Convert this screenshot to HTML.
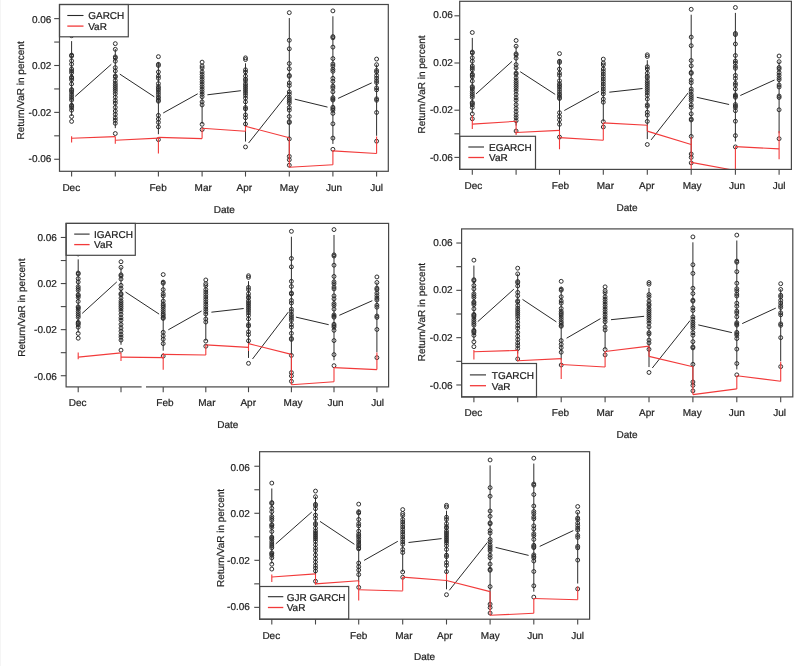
<!DOCTYPE html>
<html><head><meta charset="utf-8"><style>
html,body{margin:0;padding:0;background:#fff;}
svg{display:block;will-change:transform;}
text{text-rendering:geometricPrecision;font-family:"Liberation Sans",sans-serif;font-size:10px;fill:#1e1e1e;stroke:#1e1e1e;stroke-width:0.22px;}
</style></head><body>
<svg width="797" height="666" viewBox="0 0 797 666">
<rect width="797" height="666" fill="#fff"/>
<line x1="0.5" y1="0" x2="0.5" y2="666" stroke="#f5f5f5" stroke-width="1"/>
<g><clipPath id="c0"><rect x="59.5" y="4.5" width="328.8" height="166.8"/></clipPath>
<g clip-path="url(#c0)" stroke="#2e2e2e" stroke-width="1" fill="none"><line x1="71.6" y1="41.11" x2="71.6" y2="116.02"/><circle cx="71.6" cy="35.71" r="1.95"/><circle cx="71.6" cy="55.07" r="1.95"/><circle cx="71.6" cy="56.07" r="1.95"/><circle cx="71.6" cy="60.84" r="1.95"/><circle cx="71.6" cy="64.21" r="1.95"/><circle cx="71.6" cy="68.98" r="1.95"/><circle cx="71.6" cy="70.87" r="1.95"/><circle cx="71.6" cy="72.75" r="1.95"/><circle cx="71.6" cy="77.12" r="1.95"/><circle cx="71.6" cy="78.12" r="1.95"/><circle cx="71.6" cy="79.81" r="1.95"/><circle cx="71.6" cy="83.98" r="1.95"/><circle cx="71.6" cy="89.44" r="1.95"/><circle cx="71.6" cy="90.43" r="1.95"/><circle cx="71.6" cy="91.82" r="1.95"/><circle cx="71.6" cy="94.31" r="1.95"/><circle cx="71.6" cy="96.39" r="1.95"/><circle cx="71.6" cy="98.38" r="1.95"/><circle cx="71.6" cy="100.17" r="1.95"/><circle cx="71.6" cy="105.23" r="1.95"/><circle cx="71.6" cy="106.23" r="1.95"/><circle cx="71.6" cy="107.62" r="1.95"/><circle cx="71.6" cy="110.2" r="1.95"/><circle cx="71.6" cy="116.55" r="1.95"/><circle cx="71.6" cy="121.42" r="1.95"/><line x1="115.3" y1="49.05" x2="115.3" y2="128.14"/><circle cx="115.3" cy="43.65" r="1.95"/><circle cx="115.3" cy="49.31" r="1.95"/><circle cx="115.3" cy="56.86" r="1.95"/><circle cx="115.3" cy="58.05" r="1.95"/><circle cx="115.3" cy="61.23" r="1.95"/><circle cx="115.3" cy="67.59" r="1.95"/><circle cx="115.3" cy="70.97" r="1.95"/><circle cx="115.3" cy="75.93" r="1.95"/><circle cx="115.3" cy="77.12" r="1.95"/><circle cx="115.3" cy="80.6" r="1.95"/><circle cx="115.3" cy="83.38" r="1.95"/><circle cx="115.3" cy="85.37" r="1.95"/><circle cx="115.3" cy="87.35" r="1.95"/><circle cx="115.3" cy="89.34" r="1.95"/><circle cx="115.3" cy="91.33" r="1.95"/><circle cx="115.3" cy="93.81" r="1.95"/><circle cx="115.3" cy="97.19" r="1.95"/><circle cx="115.3" cy="100.56" r="1.95"/><circle cx="115.3" cy="103.15" r="1.95"/><circle cx="115.3" cy="107.32" r="1.95"/><circle cx="115.3" cy="110.99" r="1.95"/><circle cx="115.3" cy="114.37" r="1.95"/><circle cx="115.3" cy="117.75" r="1.95"/><circle cx="115.3" cy="120.33" r="1.95"/><circle cx="115.3" cy="123.31" r="1.95"/><circle cx="115.3" cy="133.54" r="1.95"/><line x1="158.4" y1="62.06" x2="158.4" y2="134.2"/><circle cx="158.4" cy="56.66" r="1.95"/><circle cx="158.4" cy="64.31" r="1.95"/><circle cx="158.4" cy="65.5" r="1.95"/><circle cx="158.4" cy="71.96" r="1.95"/><circle cx="158.4" cy="76.13" r="1.95"/><circle cx="158.4" cy="78.32" r="1.95"/><circle cx="158.4" cy="83.58" r="1.95"/><circle cx="158.4" cy="86.56" r="1.95"/><circle cx="158.4" cy="88.25" r="1.95"/><circle cx="158.4" cy="89.94" r="1.95"/><circle cx="158.4" cy="92.22" r="1.95"/><circle cx="158.4" cy="94.41" r="1.95"/><circle cx="158.4" cy="96.69" r="1.95"/><circle cx="158.4" cy="98.28" r="1.95"/><circle cx="158.4" cy="100.27" r="1.95"/><circle cx="158.4" cy="101.26" r="1.95"/><circle cx="158.4" cy="115.36" r="1.95"/><circle cx="158.4" cy="119.04" r="1.95"/><circle cx="158.4" cy="122.41" r="1.95"/><circle cx="158.4" cy="126.88" r="1.95"/><circle cx="158.4" cy="139.6" r="1.95"/><line x1="202.1" y1="67.53" x2="202.1" y2="124.17"/><circle cx="202.1" cy="62.13" r="1.95"/><circle cx="202.1" cy="66" r="1.95"/><circle cx="202.1" cy="67.99" r="1.95"/><circle cx="202.1" cy="71.96" r="1.95"/><circle cx="202.1" cy="74.44" r="1.95"/><circle cx="202.1" cy="76.93" r="1.95"/><circle cx="202.1" cy="79.41" r="1.95"/><circle cx="202.1" cy="81.89" r="1.95"/><circle cx="202.1" cy="84.37" r="1.95"/><circle cx="202.1" cy="86.86" r="1.95"/><circle cx="202.1" cy="89.34" r="1.95"/><circle cx="202.1" cy="91.82" r="1.95"/><circle cx="202.1" cy="94.31" r="1.95"/><circle cx="202.1" cy="96.79" r="1.95"/><circle cx="202.1" cy="101.86" r="1.95"/><circle cx="202.1" cy="104.93" r="1.95"/><circle cx="202.1" cy="124.3" r="1.95"/><circle cx="202.1" cy="129.57" r="1.95"/><line x1="245.5" y1="63.26" x2="245.5" y2="141.55"/><circle cx="245.5" cy="57.86" r="1.95"/><circle cx="245.5" cy="59.54" r="1.95"/><circle cx="245.5" cy="69.77" r="1.95"/><circle cx="245.5" cy="71.96" r="1.95"/><circle cx="245.5" cy="76.13" r="1.95"/><circle cx="245.5" cy="79.11" r="1.95"/><circle cx="245.5" cy="80.6" r="1.95"/><circle cx="245.5" cy="83.58" r="1.95"/><circle cx="245.5" cy="85.47" r="1.95"/><circle cx="245.5" cy="87.35" r="1.95"/><circle cx="245.5" cy="89.34" r="1.95"/><circle cx="245.5" cy="91.33" r="1.95"/><circle cx="245.5" cy="93.31" r="1.95"/><circle cx="245.5" cy="95.5" r="1.95"/><circle cx="245.5" cy="98.18" r="1.95"/><circle cx="245.5" cy="101.86" r="1.95"/><circle cx="245.5" cy="107.52" r="1.95"/><circle cx="245.5" cy="109.01" r="1.95"/><circle cx="245.5" cy="114.87" r="1.95"/><circle cx="245.5" cy="117.75" r="1.95"/><circle cx="245.5" cy="124" r="1.95"/><circle cx="245.5" cy="146.95" r="1.95"/><line x1="289.3" y1="18.06" x2="289.3" y2="159.82"/><circle cx="289.3" cy="12.66" r="1.95"/><circle cx="289.3" cy="40.28" r="1.95"/><circle cx="289.3" cy="48.82" r="1.95"/><circle cx="289.3" cy="63.52" r="1.95"/><circle cx="289.3" cy="68.78" r="1.95"/><circle cx="289.3" cy="75.34" r="1.95"/><circle cx="289.3" cy="76.33" r="1.95"/><circle cx="289.3" cy="82.98" r="1.95"/><circle cx="289.3" cy="85.57" r="1.95"/><circle cx="289.3" cy="91.92" r="1.95"/><circle cx="289.3" cy="94.21" r="1.95"/><circle cx="289.3" cy="97.29" r="1.95"/><circle cx="289.3" cy="99.27" r="1.95"/><circle cx="289.3" cy="101.26" r="1.95"/><circle cx="289.3" cy="103.25" r="1.95"/><circle cx="289.3" cy="107.52" r="1.95"/><circle cx="289.3" cy="110.1" r="1.95"/><circle cx="289.3" cy="116.46" r="1.95"/><circle cx="289.3" cy="121.62" r="1.95"/><circle cx="289.3" cy="122.61" r="1.95"/><circle cx="289.3" cy="138.9" r="1.95"/><circle cx="289.3" cy="156.38" r="1.95"/><circle cx="289.3" cy="159.76" r="1.95"/><circle cx="289.3" cy="165.22" r="1.95"/><line x1="332.9" y1="16.28" x2="332.9" y2="143.93"/><circle cx="332.9" cy="10.88" r="1.95"/><circle cx="332.9" cy="36.6" r="1.95"/><circle cx="332.9" cy="37.79" r="1.95"/><circle cx="332.9" cy="47.13" r="1.95"/><circle cx="332.9" cy="58.55" r="1.95"/><circle cx="332.9" cy="64.01" r="1.95"/><circle cx="332.9" cy="66" r="1.95"/><circle cx="332.9" cy="69.38" r="1.95"/><circle cx="332.9" cy="71.26" r="1.95"/><circle cx="332.9" cy="78.32" r="1.95"/><circle cx="332.9" cy="81.39" r="1.95"/><circle cx="332.9" cy="86.16" r="1.95"/><circle cx="332.9" cy="88.05" r="1.95"/><circle cx="332.9" cy="91.82" r="1.95"/><circle cx="332.9" cy="97.68" r="1.95"/><circle cx="332.9" cy="98.97" r="1.95"/><circle cx="332.9" cy="100.07" r="1.95"/><circle cx="332.9" cy="107.22" r="1.95"/><circle cx="332.9" cy="108.71" r="1.95"/><circle cx="332.9" cy="110.2" r="1.95"/><circle cx="332.9" cy="113.38" r="1.95"/><circle cx="332.9" cy="123.81" r="1.95"/><circle cx="332.9" cy="138.11" r="1.95"/><circle cx="332.9" cy="149.33" r="1.95"/><line x1="376.6" y1="64.45" x2="376.6" y2="135.79"/><circle cx="376.6" cy="59.05" r="1.95"/><circle cx="376.6" cy="64.71" r="1.95"/><circle cx="376.6" cy="70.47" r="1.95"/><circle cx="376.6" cy="71.96" r="1.95"/><circle cx="376.6" cy="75.53" r="1.95"/><circle cx="376.6" cy="78.12" r="1.95"/><circle cx="376.6" cy="80.7" r="1.95"/><circle cx="376.6" cy="82.59" r="1.95"/><circle cx="376.6" cy="87.85" r="1.95"/><circle cx="376.6" cy="89.84" r="1.95"/><circle cx="376.6" cy="98.78" r="1.95"/><circle cx="376.6" cy="100.27" r="1.95"/><circle cx="376.6" cy="112.48" r="1.95"/><circle cx="376.6" cy="141.19" r="1.95"/></g>
<g stroke="#2a2a2a" stroke-width="1"><line x1="75.2" y1="96.4" x2="111.3" y2="64.3"/><line x1="119.8" y1="74.1" x2="154.3" y2="96.8"/><line x1="163.2" y1="113" x2="197.7" y2="93.8"/><line x1="207.4" y1="94.8" x2="240.9" y2="90.7"/><line x1="248.6" y1="143" x2="286.7" y2="95"/><line x1="294.8" y1="99.2" x2="327.5" y2="107.1"/><line x1="338.1" y1="98.4" x2="371.7" y2="82.9"/></g>
<g clip-path="url(#c0)" stroke="#f23a3a" stroke-width="1.1"><line x1="71.6" y1="138.3" x2="115.3" y2="136.6"/><line x1="115.3" y1="140.3" x2="158.4" y2="138.1"/><line x1="158.4" y1="137.4" x2="202.1" y2="138.6"/><line x1="202.1" y1="128.2" x2="245.5" y2="131.3"/><line x1="245.5" y1="126.3" x2="289.3" y2="137.8"/><line x1="289.3" y1="167.2" x2="332.9" y2="164.8"/><line x1="332.9" y1="150.9" x2="376.6" y2="153.5"/><line x1="71.6" y1="136.2" x2="71.6" y2="142.5"/><line x1="115.3" y1="136.6" x2="115.3" y2="143.7"/><line x1="158.4" y1="137" x2="158.4" y2="153.5"/><line x1="202.1" y1="128.2" x2="202.1" y2="138.6"/><line x1="245.5" y1="126.3" x2="245.5" y2="131.3"/><line x1="289.3" y1="137.8" x2="289.3" y2="167.2"/><line x1="332.9" y1="150.1" x2="332.9" y2="164.8"/><line x1="376.6" y1="136.5" x2="376.6" y2="153.5"/></g>
<rect x="59.5" y="4.5" width="68.8" height="32.3" fill="#fff" stroke="#474747" stroke-width="1.2"/>
<line x1="67.3" y1="15.5" x2="83.5" y2="15.5" stroke="#2a2a2a" stroke-width="1.1"/>
<line x1="67.3" y1="26.1" x2="83.5" y2="26.1" stroke="#f23a3a" stroke-width="1.3"/>
<text x="88.2" y="19.3">GARCH</text>
<text x="88.2" y="29.5">VaR</text>
<rect x="59.5" y="4.5" width="328.8" height="166.8" fill="none" stroke="#474747" stroke-width="1.2"/>
<g stroke="#474747" stroke-width="1.1"><line x1="54.2" y1="18.62" x2="59.5" y2="18.62"/><line x1="54.2" y1="42.06" x2="59.5" y2="42.06"/><line x1="54.2" y1="65.5" x2="59.5" y2="65.5"/><line x1="54.2" y1="88.94" x2="59.5" y2="88.94"/><line x1="54.2" y1="112.38" x2="59.5" y2="112.38"/><line x1="54.2" y1="135.82" x2="59.5" y2="135.82"/><line x1="54.2" y1="159.26" x2="59.5" y2="159.26"/><line x1="71.6" y1="171.3" x2="71.6" y2="176.6"/><line x1="115.3" y1="171.3" x2="115.3" y2="176.6"/><line x1="158.4" y1="171.3" x2="158.4" y2="176.6"/><line x1="202.1" y1="171.3" x2="202.1" y2="176.6"/><line x1="245.5" y1="171.3" x2="245.5" y2="176.6"/><line x1="289.3" y1="171.3" x2="289.3" y2="176.6"/><line x1="332.9" y1="171.3" x2="332.9" y2="176.6"/><line x1="376.6" y1="171.3" x2="376.6" y2="176.6"/></g>
<text x="51.4" y="22.85" text-anchor="end">0.06</text>
<text x="51.4" y="69.15" text-anchor="end">0.02</text>
<text x="51.4" y="116" text-anchor="end">-0.02</text>
<text x="51.4" y="162.4" text-anchor="end">-0.06</text>
<text x="71.3" y="190.5" text-anchor="middle">Dec</text>
<text x="158.1" y="190.5" text-anchor="middle">Feb</text>
<text x="203.2" y="190.5" text-anchor="middle">Mar</text>
<text x="244.3" y="190.5" text-anchor="middle">Apr</text>
<text x="289.3" y="190.5" text-anchor="middle">May</text>
<text x="334.1" y="190.5" text-anchor="middle">Jun</text>
<text x="376.6" y="190.5" text-anchor="middle">Jul</text>
<text x="224.3" y="212.5" text-anchor="middle">Date</text>
<text transform="translate(20.8 90.4) rotate(-90)" x="0" y="3.6" text-anchor="middle">Return/VaR in percent</text></g>
<g><clipPath id="c1"><rect x="459.7" y="1.3" width="331.7" height="168.1"/></clipPath>
<g clip-path="url(#c1)" stroke="#2e2e2e" stroke-width="1" fill="none"><line x1="472.3" y1="37.9" x2="472.3" y2="113.4"/><circle cx="472.3" cy="32.5" r="1.95"/><circle cx="472.3" cy="52" r="1.95"/><circle cx="472.3" cy="53" r="1.95"/><circle cx="472.3" cy="57.8" r="1.95"/><circle cx="472.3" cy="61.2" r="1.95"/><circle cx="472.3" cy="66" r="1.95"/><circle cx="472.3" cy="67.9" r="1.95"/><circle cx="472.3" cy="69.8" r="1.95"/><circle cx="472.3" cy="74.2" r="1.95"/><circle cx="472.3" cy="75.2" r="1.95"/><circle cx="472.3" cy="76.9" r="1.95"/><circle cx="472.3" cy="81.1" r="1.95"/><circle cx="472.3" cy="86.6" r="1.95"/><circle cx="472.3" cy="87.6" r="1.95"/><circle cx="472.3" cy="89" r="1.95"/><circle cx="472.3" cy="91.5" r="1.95"/><circle cx="472.3" cy="93.6" r="1.95"/><circle cx="472.3" cy="95.6" r="1.95"/><circle cx="472.3" cy="97.4" r="1.95"/><circle cx="472.3" cy="102.5" r="1.95"/><circle cx="472.3" cy="103.5" r="1.95"/><circle cx="472.3" cy="104.9" r="1.95"/><circle cx="472.3" cy="107.5" r="1.95"/><circle cx="472.3" cy="113.9" r="1.95"/><circle cx="472.3" cy="118.8" r="1.95"/><line x1="516.1" y1="45.9" x2="516.1" y2="125.6"/><circle cx="516.1" cy="40.5" r="1.95"/><circle cx="516.1" cy="46.2" r="1.95"/><circle cx="516.1" cy="53.8" r="1.95"/><circle cx="516.1" cy="55" r="1.95"/><circle cx="516.1" cy="58.2" r="1.95"/><circle cx="516.1" cy="64.6" r="1.95"/><circle cx="516.1" cy="68" r="1.95"/><circle cx="516.1" cy="73" r="1.95"/><circle cx="516.1" cy="74.2" r="1.95"/><circle cx="516.1" cy="77.7" r="1.95"/><circle cx="516.1" cy="80.5" r="1.95"/><circle cx="516.1" cy="82.5" r="1.95"/><circle cx="516.1" cy="84.5" r="1.95"/><circle cx="516.1" cy="86.5" r="1.95"/><circle cx="516.1" cy="88.5" r="1.95"/><circle cx="516.1" cy="91" r="1.95"/><circle cx="516.1" cy="94.4" r="1.95"/><circle cx="516.1" cy="97.8" r="1.95"/><circle cx="516.1" cy="100.4" r="1.95"/><circle cx="516.1" cy="104.6" r="1.95"/><circle cx="516.1" cy="108.3" r="1.95"/><circle cx="516.1" cy="111.7" r="1.95"/><circle cx="516.1" cy="115.1" r="1.95"/><circle cx="516.1" cy="117.7" r="1.95"/><circle cx="516.1" cy="120.7" r="1.95"/><circle cx="516.1" cy="131" r="1.95"/><line x1="559.5" y1="59" x2="559.5" y2="131.7"/><circle cx="559.5" cy="53.6" r="1.95"/><circle cx="559.5" cy="61.3" r="1.95"/><circle cx="559.5" cy="62.5" r="1.95"/><circle cx="559.5" cy="69" r="1.95"/><circle cx="559.5" cy="73.2" r="1.95"/><circle cx="559.5" cy="75.4" r="1.95"/><circle cx="559.5" cy="80.7" r="1.95"/><circle cx="559.5" cy="83.7" r="1.95"/><circle cx="559.5" cy="85.4" r="1.95"/><circle cx="559.5" cy="87.1" r="1.95"/><circle cx="559.5" cy="89.4" r="1.95"/><circle cx="559.5" cy="91.6" r="1.95"/><circle cx="559.5" cy="93.9" r="1.95"/><circle cx="559.5" cy="95.5" r="1.95"/><circle cx="559.5" cy="97.5" r="1.95"/><circle cx="559.5" cy="98.5" r="1.95"/><circle cx="559.5" cy="112.7" r="1.95"/><circle cx="559.5" cy="116.4" r="1.95"/><circle cx="559.5" cy="119.8" r="1.95"/><circle cx="559.5" cy="124.3" r="1.95"/><circle cx="559.5" cy="137.1" r="1.95"/><line x1="603.3" y1="64.5" x2="603.3" y2="121.6"/><circle cx="603.3" cy="59.1" r="1.95"/><circle cx="603.3" cy="63" r="1.95"/><circle cx="603.3" cy="65" r="1.95"/><circle cx="603.3" cy="69" r="1.95"/><circle cx="603.3" cy="71.5" r="1.95"/><circle cx="603.3" cy="74" r="1.95"/><circle cx="603.3" cy="76.5" r="1.95"/><circle cx="603.3" cy="79" r="1.95"/><circle cx="603.3" cy="81.5" r="1.95"/><circle cx="603.3" cy="84" r="1.95"/><circle cx="603.3" cy="86.5" r="1.95"/><circle cx="603.3" cy="89" r="1.95"/><circle cx="603.3" cy="91.5" r="1.95"/><circle cx="603.3" cy="94" r="1.95"/><circle cx="603.3" cy="99.1" r="1.95"/><circle cx="603.3" cy="102.2" r="1.95"/><circle cx="603.3" cy="121.7" r="1.95"/><circle cx="603.3" cy="127" r="1.95"/><line x1="647.3" y1="60.2" x2="647.3" y2="139.1"/><circle cx="647.3" cy="54.8" r="1.95"/><circle cx="647.3" cy="56.5" r="1.95"/><circle cx="647.3" cy="66.8" r="1.95"/><circle cx="647.3" cy="69" r="1.95"/><circle cx="647.3" cy="73.2" r="1.95"/><circle cx="647.3" cy="76.2" r="1.95"/><circle cx="647.3" cy="77.7" r="1.95"/><circle cx="647.3" cy="80.7" r="1.95"/><circle cx="647.3" cy="82.6" r="1.95"/><circle cx="647.3" cy="84.5" r="1.95"/><circle cx="647.3" cy="86.5" r="1.95"/><circle cx="647.3" cy="88.5" r="1.95"/><circle cx="647.3" cy="90.5" r="1.95"/><circle cx="647.3" cy="92.7" r="1.95"/><circle cx="647.3" cy="95.4" r="1.95"/><circle cx="647.3" cy="99.1" r="1.95"/><circle cx="647.3" cy="104.8" r="1.95"/><circle cx="647.3" cy="106.3" r="1.95"/><circle cx="647.3" cy="112.2" r="1.95"/><circle cx="647.3" cy="115.1" r="1.95"/><circle cx="647.3" cy="121.4" r="1.95"/><circle cx="647.3" cy="144.5" r="1.95"/><line x1="691.2" y1="14.7" x2="691.2" y2="157.5"/><circle cx="691.2" cy="9.3" r="1.95"/><circle cx="691.2" cy="37.1" r="1.95"/><circle cx="691.2" cy="45.7" r="1.95"/><circle cx="691.2" cy="60.5" r="1.95"/><circle cx="691.2" cy="65.8" r="1.95"/><circle cx="691.2" cy="72.4" r="1.95"/><circle cx="691.2" cy="73.4" r="1.95"/><circle cx="691.2" cy="80.1" r="1.95"/><circle cx="691.2" cy="82.7" r="1.95"/><circle cx="691.2" cy="89.1" r="1.95"/><circle cx="691.2" cy="91.4" r="1.95"/><circle cx="691.2" cy="94.5" r="1.95"/><circle cx="691.2" cy="96.5" r="1.95"/><circle cx="691.2" cy="98.5" r="1.95"/><circle cx="691.2" cy="100.5" r="1.95"/><circle cx="691.2" cy="104.8" r="1.95"/><circle cx="691.2" cy="107.4" r="1.95"/><circle cx="691.2" cy="113.8" r="1.95"/><circle cx="691.2" cy="119" r="1.95"/><circle cx="691.2" cy="120" r="1.95"/><circle cx="691.2" cy="136.4" r="1.95"/><circle cx="691.2" cy="154" r="1.95"/><circle cx="691.2" cy="157.4" r="1.95"/><circle cx="691.2" cy="162.9" r="1.95"/><line x1="735.4" y1="12.9" x2="735.4" y2="141.5"/><circle cx="735.4" cy="7.5" r="1.95"/><circle cx="735.4" cy="33.4" r="1.95"/><circle cx="735.4" cy="34.6" r="1.95"/><circle cx="735.4" cy="44" r="1.95"/><circle cx="735.4" cy="55.5" r="1.95"/><circle cx="735.4" cy="61" r="1.95"/><circle cx="735.4" cy="63" r="1.95"/><circle cx="735.4" cy="66.4" r="1.95"/><circle cx="735.4" cy="68.3" r="1.95"/><circle cx="735.4" cy="75.4" r="1.95"/><circle cx="735.4" cy="78.5" r="1.95"/><circle cx="735.4" cy="83.3" r="1.95"/><circle cx="735.4" cy="85.2" r="1.95"/><circle cx="735.4" cy="89" r="1.95"/><circle cx="735.4" cy="94.9" r="1.95"/><circle cx="735.4" cy="96.2" r="1.95"/><circle cx="735.4" cy="97.3" r="1.95"/><circle cx="735.4" cy="104.5" r="1.95"/><circle cx="735.4" cy="106" r="1.95"/><circle cx="735.4" cy="107.5" r="1.95"/><circle cx="735.4" cy="110.7" r="1.95"/><circle cx="735.4" cy="121.2" r="1.95"/><circle cx="735.4" cy="135.6" r="1.95"/><circle cx="735.4" cy="146.9" r="1.95"/><line x1="779.1" y1="61.4" x2="779.1" y2="133.3"/><circle cx="779.1" cy="56" r="1.95"/><circle cx="779.1" cy="61.7" r="1.95"/><circle cx="779.1" cy="67.5" r="1.95"/><circle cx="779.1" cy="69" r="1.95"/><circle cx="779.1" cy="72.6" r="1.95"/><circle cx="779.1" cy="75.2" r="1.95"/><circle cx="779.1" cy="77.8" r="1.95"/><circle cx="779.1" cy="79.7" r="1.95"/><circle cx="779.1" cy="85" r="1.95"/><circle cx="779.1" cy="87" r="1.95"/><circle cx="779.1" cy="96" r="1.95"/><circle cx="779.1" cy="97.5" r="1.95"/><circle cx="779.1" cy="109.8" r="1.95"/><circle cx="779.1" cy="138.7" r="1.95"/></g>
<g stroke="#2a2a2a" stroke-width="1"><line x1="476" y1="93.9" x2="512" y2="61.4"/><line x1="520.2" y1="71.7" x2="555.2" y2="94.4"/><line x1="564.3" y1="110.5" x2="599" y2="91.4"/><line x1="609.3" y1="92.2" x2="642.5" y2="88.5"/><line x1="651.1" y1="139.9" x2="688.2" y2="92.8"/><line x1="696.8" y1="97.3" x2="729.1" y2="104.5"/><line x1="740.3" y1="95.5" x2="774.5" y2="80"/></g>
<g clip-path="url(#c1)" stroke="#f23a3a" stroke-width="1.1"><line x1="472.3" y1="124.1" x2="516.1" y2="121.3"/><line x1="516.1" y1="132.5" x2="559.5" y2="130.4"/><line x1="559.5" y1="137.6" x2="603.3" y2="140.2"/><line x1="603.3" y1="122.9" x2="647.3" y2="125.3"/><line x1="647.3" y1="131.1" x2="691.2" y2="144.5"/><line x1="691.2" y1="162.4" x2="735.4" y2="170.5"/><line x1="735.4" y1="146.6" x2="779.1" y2="148.9"/><line x1="472.3" y1="115.6" x2="472.3" y2="129.1"/><line x1="516.1" y1="121.3" x2="516.1" y2="135"/><line x1="559.5" y1="130.4" x2="559.5" y2="149.3"/><line x1="603.3" y1="123" x2="603.3" y2="140.2"/><line x1="647.3" y1="125.3" x2="647.3" y2="131.1"/><line x1="691.2" y1="137" x2="691.2" y2="170"/><line x1="735.4" y1="146.6" x2="735.4" y2="170"/><line x1="779.1" y1="130.9" x2="779.1" y2="159.3"/></g>
<rect x="459.7" y="136.3" width="75.8" height="33.1" fill="#fff" stroke="#474747" stroke-width="1.2"/>
<line x1="468.3" y1="147" x2="484" y2="147" stroke="#2a2a2a" stroke-width="1.1"/>
<line x1="468.3" y1="157.5" x2="484" y2="157.5" stroke="#f23a3a" stroke-width="1.3"/>
<text x="489" y="150.8">EGARCH</text>
<text x="489" y="161.1">VaR</text>
<rect x="459.7" y="1.3" width="331.7" height="168.1" fill="none" stroke="#474747" stroke-width="1.2"/>
<g stroke="#474747" stroke-width="1.1"><line x1="454.4" y1="15.8" x2="459.7" y2="15.8"/><line x1="454.4" y1="39.4" x2="459.7" y2="39.4"/><line x1="454.4" y1="63" x2="459.7" y2="63"/><line x1="454.4" y1="86.6" x2="459.7" y2="86.6"/><line x1="454.4" y1="110.2" x2="459.7" y2="110.2"/><line x1="454.4" y1="133.8" x2="459.7" y2="133.8"/><line x1="454.4" y1="157.4" x2="459.7" y2="157.4"/><line x1="472.3" y1="169.4" x2="472.3" y2="174.7"/><line x1="516.1" y1="169.4" x2="516.1" y2="174.7"/><line x1="559.5" y1="169.4" x2="559.5" y2="174.7"/><line x1="603.3" y1="169.4" x2="603.3" y2="174.7"/><line x1="647.3" y1="169.4" x2="647.3" y2="174.7"/><line x1="691.2" y1="169.4" x2="691.2" y2="174.7"/><line x1="735.4" y1="169.4" x2="735.4" y2="174.7"/><line x1="779.1" y1="169.4" x2="779.1" y2="174.7"/></g>
<text x="452.8" y="18.35" text-anchor="end">0.06</text>
<text x="452.8" y="65.55" text-anchor="end">0.02</text>
<text x="452.8" y="113.15" text-anchor="end">-0.02</text>
<text x="452.8" y="160.85" text-anchor="end">-0.06</text>
<text x="473.4" y="188.7" text-anchor="middle">Dec</text>
<text x="560.4" y="188.7" text-anchor="middle">Feb</text>
<text x="605.4" y="188.7" text-anchor="middle">Mar</text>
<text x="646.8" y="188.7" text-anchor="middle">Apr</text>
<text x="692.1" y="188.7" text-anchor="middle">May</text>
<text x="737.1" y="188.7" text-anchor="middle">Jun</text>
<text x="779.1" y="188.7" text-anchor="middle">Jul</text>
<text x="627" y="210.6" text-anchor="middle">Date</text>
<text transform="translate(421.5 84.5) rotate(-90)" x="0" y="3.6" text-anchor="middle">Return/VaR in percent</text></g>
<g><clipPath id="c2"><rect x="66.1" y="223.4" width="322.5" height="163.5"/></clipPath>
<g clip-path="url(#c2)" stroke="#2e2e2e" stroke-width="1" fill="none"><line x1="78.2" y1="259.38" x2="78.2" y2="332.84"/><circle cx="78.2" cy="253.98" r="1.95"/><circle cx="78.2" cy="273.02" r="1.95"/><circle cx="78.2" cy="274" r="1.95"/><circle cx="78.2" cy="278.68" r="1.95"/><circle cx="78.2" cy="282" r="1.95"/><circle cx="78.2" cy="286.69" r="1.95"/><circle cx="78.2" cy="288.54" r="1.95"/><circle cx="78.2" cy="290.4" r="1.95"/><circle cx="78.2" cy="294.69" r="1.95"/><circle cx="78.2" cy="295.67" r="1.95"/><circle cx="78.2" cy="297.33" r="1.95"/><circle cx="78.2" cy="301.43" r="1.95"/><circle cx="78.2" cy="306.8" r="1.95"/><circle cx="78.2" cy="307.78" r="1.95"/><circle cx="78.2" cy="309.14" r="1.95"/><circle cx="78.2" cy="311.58" r="1.95"/><circle cx="78.2" cy="313.63" r="1.95"/><circle cx="78.2" cy="315.59" r="1.95"/><circle cx="78.2" cy="317.34" r="1.95"/><circle cx="78.2" cy="322.32" r="1.95"/><circle cx="78.2" cy="323.3" r="1.95"/><circle cx="78.2" cy="324.67" r="1.95"/><circle cx="78.2" cy="327.2" r="1.95"/><circle cx="78.2" cy="333.45" r="1.95"/><circle cx="78.2" cy="338.24" r="1.95"/><line x1="121" y1="267.19" x2="121" y2="344.75"/><circle cx="121" cy="261.79" r="1.95"/><circle cx="121" cy="267.36" r="1.95"/><circle cx="121" cy="274.78" r="1.95"/><circle cx="121" cy="275.95" r="1.95"/><circle cx="121" cy="279.07" r="1.95"/><circle cx="121" cy="285.32" r="1.95"/><circle cx="121" cy="288.64" r="1.95"/><circle cx="121" cy="293.52" r="1.95"/><circle cx="121" cy="294.69" r="1.95"/><circle cx="121" cy="298.11" r="1.95"/><circle cx="121" cy="300.84" r="1.95"/><circle cx="121" cy="302.8" r="1.95"/><circle cx="121" cy="304.75" r="1.95"/><circle cx="121" cy="306.7" r="1.95"/><circle cx="121" cy="308.65" r="1.95"/><circle cx="121" cy="311.1" r="1.95"/><circle cx="121" cy="314.41" r="1.95"/><circle cx="121" cy="317.73" r="1.95"/><circle cx="121" cy="320.27" r="1.95"/><circle cx="121" cy="324.37" r="1.95"/><circle cx="121" cy="327.99" r="1.95"/><circle cx="121" cy="331.3" r="1.95"/><circle cx="121" cy="334.62" r="1.95"/><circle cx="121" cy="337.16" r="1.95"/><circle cx="121" cy="340.09" r="1.95"/><circle cx="121" cy="350.15" r="1.95"/><line x1="163.2" y1="279.98" x2="163.2" y2="350.7"/><circle cx="163.2" cy="274.58" r="1.95"/><circle cx="163.2" cy="282.1" r="1.95"/><circle cx="163.2" cy="283.27" r="1.95"/><circle cx="163.2" cy="289.62" r="1.95"/><circle cx="163.2" cy="293.72" r="1.95"/><circle cx="163.2" cy="295.87" r="1.95"/><circle cx="163.2" cy="301.04" r="1.95"/><circle cx="163.2" cy="303.97" r="1.95"/><circle cx="163.2" cy="305.63" r="1.95"/><circle cx="163.2" cy="307.29" r="1.95"/><circle cx="163.2" cy="309.53" r="1.95"/><circle cx="163.2" cy="311.68" r="1.95"/><circle cx="163.2" cy="313.93" r="1.95"/><circle cx="163.2" cy="315.49" r="1.95"/><circle cx="163.2" cy="317.44" r="1.95"/><circle cx="163.2" cy="318.42" r="1.95"/><circle cx="163.2" cy="332.28" r="1.95"/><circle cx="163.2" cy="335.89" r="1.95"/><circle cx="163.2" cy="339.21" r="1.95"/><circle cx="163.2" cy="343.61" r="1.95"/><circle cx="163.2" cy="356.1" r="1.95"/><line x1="205.8" y1="285.35" x2="205.8" y2="340.84"/><circle cx="205.8" cy="279.95" r="1.95"/><circle cx="205.8" cy="283.76" r="1.95"/><circle cx="205.8" cy="285.71" r="1.95"/><circle cx="205.8" cy="289.62" r="1.95"/><circle cx="205.8" cy="292.06" r="1.95"/><circle cx="205.8" cy="294.5" r="1.95"/><circle cx="205.8" cy="296.94" r="1.95"/><circle cx="205.8" cy="299.38" r="1.95"/><circle cx="205.8" cy="301.82" r="1.95"/><circle cx="205.8" cy="304.26" r="1.95"/><circle cx="205.8" cy="306.7" r="1.95"/><circle cx="205.8" cy="309.14" r="1.95"/><circle cx="205.8" cy="311.58" r="1.95"/><circle cx="205.8" cy="314.02" r="1.95"/><circle cx="205.8" cy="319" r="1.95"/><circle cx="205.8" cy="322.03" r="1.95"/><circle cx="205.8" cy="341.07" r="1.95"/><circle cx="205.8" cy="346.24" r="1.95"/><line x1="248.5" y1="281.15" x2="248.5" y2="357.93"/><circle cx="248.5" cy="275.75" r="1.95"/><circle cx="248.5" cy="277.41" r="1.95"/><circle cx="248.5" cy="287.47" r="1.95"/><circle cx="248.5" cy="289.62" r="1.95"/><circle cx="248.5" cy="293.72" r="1.95"/><circle cx="248.5" cy="296.65" r="1.95"/><circle cx="248.5" cy="298.11" r="1.95"/><circle cx="248.5" cy="301.04" r="1.95"/><circle cx="248.5" cy="302.89" r="1.95"/><circle cx="248.5" cy="304.75" r="1.95"/><circle cx="248.5" cy="306.7" r="1.95"/><circle cx="248.5" cy="308.65" r="1.95"/><circle cx="248.5" cy="310.61" r="1.95"/><circle cx="248.5" cy="312.76" r="1.95"/><circle cx="248.5" cy="315.39" r="1.95"/><circle cx="248.5" cy="319" r="1.95"/><circle cx="248.5" cy="324.57" r="1.95"/><circle cx="248.5" cy="326.03" r="1.95"/><circle cx="248.5" cy="331.79" r="1.95"/><circle cx="248.5" cy="334.62" r="1.95"/><circle cx="248.5" cy="340.77" r="1.95"/><circle cx="248.5" cy="363.33" r="1.95"/><line x1="291.4" y1="236.73" x2="291.4" y2="375.89"/><circle cx="291.4" cy="231.33" r="1.95"/><circle cx="291.4" cy="258.47" r="1.95"/><circle cx="291.4" cy="266.87" r="1.95"/><circle cx="291.4" cy="281.32" r="1.95"/><circle cx="291.4" cy="286.49" r="1.95"/><circle cx="291.4" cy="292.94" r="1.95"/><circle cx="291.4" cy="293.91" r="1.95"/><circle cx="291.4" cy="300.45" r="1.95"/><circle cx="291.4" cy="302.99" r="1.95"/><circle cx="291.4" cy="309.24" r="1.95"/><circle cx="291.4" cy="311.49" r="1.95"/><circle cx="291.4" cy="314.51" r="1.95"/><circle cx="291.4" cy="316.47" r="1.95"/><circle cx="291.4" cy="318.42" r="1.95"/><circle cx="291.4" cy="320.37" r="1.95"/><circle cx="291.4" cy="324.57" r="1.95"/><circle cx="291.4" cy="327.11" r="1.95"/><circle cx="291.4" cy="333.35" r="1.95"/><circle cx="291.4" cy="338.43" r="1.95"/><circle cx="291.4" cy="339.41" r="1.95"/><circle cx="291.4" cy="355.42" r="1.95"/><circle cx="291.4" cy="372.6" r="1.95"/><circle cx="291.4" cy="375.92" r="1.95"/><circle cx="291.4" cy="381.29" r="1.95"/><line x1="334" y1="234.98" x2="334" y2="360.27"/><circle cx="334" cy="229.58" r="1.95"/><circle cx="334" cy="254.86" r="1.95"/><circle cx="334" cy="256.03" r="1.95"/><circle cx="334" cy="265.21" r="1.95"/><circle cx="334" cy="276.44" r="1.95"/><circle cx="334" cy="281.81" r="1.95"/><circle cx="334" cy="283.76" r="1.95"/><circle cx="334" cy="287.08" r="1.95"/><circle cx="334" cy="288.93" r="1.95"/><circle cx="334" cy="295.87" r="1.95"/><circle cx="334" cy="298.89" r="1.95"/><circle cx="334" cy="303.58" r="1.95"/><circle cx="334" cy="305.43" r="1.95"/><circle cx="334" cy="309.14" r="1.95"/><circle cx="334" cy="314.9" r="1.95"/><circle cx="334" cy="316.17" r="1.95"/><circle cx="334" cy="317.25" r="1.95"/><circle cx="334" cy="324.28" r="1.95"/><circle cx="334" cy="325.74" r="1.95"/><circle cx="334" cy="327.2" r="1.95"/><circle cx="334" cy="330.33" r="1.95"/><circle cx="334" cy="340.58" r="1.95"/><circle cx="334" cy="354.64" r="1.95"/><circle cx="334" cy="365.67" r="1.95"/><line x1="376.9" y1="282.33" x2="376.9" y2="352.26"/><circle cx="376.9" cy="276.93" r="1.95"/><circle cx="376.9" cy="282.49" r="1.95"/><circle cx="376.9" cy="288.15" r="1.95"/><circle cx="376.9" cy="289.62" r="1.95"/><circle cx="376.9" cy="293.13" r="1.95"/><circle cx="376.9" cy="295.67" r="1.95"/><circle cx="376.9" cy="298.21" r="1.95"/><circle cx="376.9" cy="300.06" r="1.95"/><circle cx="376.9" cy="305.24" r="1.95"/><circle cx="376.9" cy="307.19" r="1.95"/><circle cx="376.9" cy="315.98" r="1.95"/><circle cx="376.9" cy="317.44" r="1.95"/><circle cx="376.9" cy="329.45" r="1.95"/><circle cx="376.9" cy="357.66" r="1.95"/></g>
<g stroke="#2a2a2a" stroke-width="1"><line x1="82.2" y1="313.4" x2="116.8" y2="281.9"/><line x1="125.5" y1="292" x2="159.1" y2="314.1"/><line x1="168.3" y1="329.8" x2="201.6" y2="311"/><line x1="211.4" y1="312.2" x2="243.7" y2="308.5"/><line x1="252.5" y1="359" x2="288.3" y2="312.1"/><line x1="295.9" y1="317.1" x2="328.7" y2="324.7"/><line x1="339.3" y1="315.3" x2="372.3" y2="300.7"/></g>
<g clip-path="url(#c2)" stroke="#f23a3a" stroke-width="1.1"><line x1="78.2" y1="357.1" x2="121" y2="352.9"/><line x1="121" y1="357.1" x2="163.2" y2="357.6"/><line x1="163.2" y1="354.4" x2="205.8" y2="355"/><line x1="205.8" y1="344.9" x2="248.5" y2="347.4"/><line x1="248.5" y1="343.6" x2="291.4" y2="354.4"/><line x1="291.4" y1="384.7" x2="334" y2="381.7"/><line x1="334" y1="367.6" x2="376.9" y2="369.6"/><line x1="78.2" y1="352.5" x2="78.2" y2="359.2"/><line x1="121" y1="352.9" x2="121" y2="360.9"/><line x1="163.2" y1="352.9" x2="163.2" y2="369.7"/><line x1="205.8" y1="344.9" x2="205.8" y2="355"/><line x1="248.5" y1="343.6" x2="248.5" y2="350.9"/><line x1="291.4" y1="354.4" x2="291.4" y2="384.7"/><line x1="334" y1="367.6" x2="334" y2="381.7"/><line x1="376.9" y1="352.4" x2="376.9" y2="369.6"/></g>
<rect x="66.1" y="223.4" width="69.2" height="31.9" fill="#fff" stroke="#474747" stroke-width="1.2"/>
<line x1="74.2" y1="234.1" x2="89.6" y2="234.1" stroke="#2a2a2a" stroke-width="1.1"/>
<line x1="74.2" y1="244.6" x2="89.6" y2="244.6" stroke="#f23a3a" stroke-width="1.3"/>
<text x="94" y="238.1">IGARCH</text>
<text x="94" y="248.4">VaR</text>
<rect x="66.1" y="223.4" width="322.5" height="163.5" fill="none" stroke="#474747" stroke-width="1.2"/>
<rect x="141.6" y="385" width="4.4" height="4" fill="#fff"/>
<g stroke="#474747" stroke-width="1.1"><line x1="60.8" y1="237.48" x2="66.1" y2="237.48"/><line x1="60.8" y1="260.52" x2="66.1" y2="260.52"/><line x1="60.8" y1="283.56" x2="66.1" y2="283.56"/><line x1="60.8" y1="306.6" x2="66.1" y2="306.6"/><line x1="60.8" y1="329.64" x2="66.1" y2="329.64"/><line x1="60.8" y1="352.68" x2="66.1" y2="352.68"/><line x1="60.8" y1="375.72" x2="66.1" y2="375.72"/><line x1="78.2" y1="386.9" x2="78.2" y2="392.2"/><line x1="121" y1="386.9" x2="121" y2="392.2"/><line x1="163.2" y1="386.9" x2="163.2" y2="392.2"/><line x1="205.8" y1="386.9" x2="205.8" y2="392.2"/><line x1="248.5" y1="386.9" x2="248.5" y2="392.2"/><line x1="291.4" y1="386.9" x2="291.4" y2="392.2"/><line x1="334" y1="386.9" x2="334" y2="392.2"/><line x1="376.9" y1="386.9" x2="376.9" y2="392.2"/></g>
<text x="56.9" y="240.65" text-anchor="end">0.06</text>
<text x="56.9" y="286.95" text-anchor="end">0.02</text>
<text x="56.9" y="333.35" text-anchor="end">-0.02</text>
<text x="56.9" y="380.05" text-anchor="end">-0.06</text>
<text x="77.7" y="406.4" text-anchor="middle">Dec</text>
<text x="164.9" y="406.4" text-anchor="middle">Feb</text>
<text x="206.9" y="406.4" text-anchor="middle">Mar</text>
<text x="248.2" y="406.4" text-anchor="middle">Apr</text>
<text x="293" y="406.4" text-anchor="middle">May</text>
<text x="335.6" y="406.4" text-anchor="middle">Jun</text>
<text x="377.7" y="406.4" text-anchor="middle">Jul</text>
<text x="227.8" y="428.1" text-anchor="middle">Date</text>
<text transform="translate(20.9 307.7) rotate(-90)" x="0" y="3.6" text-anchor="middle">Return/VaR in percent</text></g>
<g><clipPath id="c3"><rect x="461.6" y="228.9" width="331.2" height="168"/></clipPath>
<g clip-path="url(#c3)" stroke="#2e2e2e" stroke-width="1" fill="none"><line x1="473.9" y1="265.56" x2="473.9" y2="341.28"/><circle cx="473.9" cy="260.16" r="1.95"/><circle cx="473.9" cy="279.71" r="1.95"/><circle cx="473.9" cy="280.71" r="1.95"/><circle cx="473.9" cy="285.53" r="1.95"/><circle cx="473.9" cy="288.94" r="1.95"/><circle cx="473.9" cy="293.75" r="1.95"/><circle cx="473.9" cy="295.65" r="1.95"/><circle cx="473.9" cy="297.56" r="1.95"/><circle cx="473.9" cy="301.97" r="1.95"/><circle cx="473.9" cy="302.97" r="1.95"/><circle cx="473.9" cy="304.68" r="1.95"/><circle cx="473.9" cy="308.89" r="1.95"/><circle cx="473.9" cy="314.4" r="1.95"/><circle cx="473.9" cy="315.4" r="1.95"/><circle cx="473.9" cy="316.81" r="1.95"/><circle cx="473.9" cy="319.31" r="1.95"/><circle cx="473.9" cy="321.42" r="1.95"/><circle cx="473.9" cy="323.42" r="1.95"/><circle cx="473.9" cy="325.23" r="1.95"/><circle cx="473.9" cy="330.34" r="1.95"/><circle cx="473.9" cy="331.34" r="1.95"/><circle cx="473.9" cy="332.75" r="1.95"/><circle cx="473.9" cy="335.35" r="1.95"/><circle cx="473.9" cy="341.77" r="1.95"/><circle cx="473.9" cy="346.68" r="1.95"/><line x1="517.7" y1="273.58" x2="517.7" y2="353.51"/><circle cx="517.7" cy="268.18" r="1.95"/><circle cx="517.7" cy="273.9" r="1.95"/><circle cx="517.7" cy="281.52" r="1.95"/><circle cx="517.7" cy="282.72" r="1.95"/><circle cx="517.7" cy="285.93" r="1.95"/><circle cx="517.7" cy="292.34" r="1.95"/><circle cx="517.7" cy="295.75" r="1.95"/><circle cx="517.7" cy="300.77" r="1.95"/><circle cx="517.7" cy="301.97" r="1.95"/><circle cx="517.7" cy="305.48" r="1.95"/><circle cx="517.7" cy="308.28" r="1.95"/><circle cx="517.7" cy="310.29" r="1.95"/><circle cx="517.7" cy="312.29" r="1.95"/><circle cx="517.7" cy="314.3" r="1.95"/><circle cx="517.7" cy="316.3" r="1.95"/><circle cx="517.7" cy="318.81" r="1.95"/><circle cx="517.7" cy="322.22" r="1.95"/><circle cx="517.7" cy="325.63" r="1.95"/><circle cx="517.7" cy="328.24" r="1.95"/><circle cx="517.7" cy="332.45" r="1.95"/><circle cx="517.7" cy="336.16" r="1.95"/><circle cx="517.7" cy="339.56" r="1.95"/><circle cx="517.7" cy="342.97" r="1.95"/><circle cx="517.7" cy="345.58" r="1.95"/><circle cx="517.7" cy="348.59" r="1.95"/><circle cx="517.7" cy="358.91" r="1.95"/><line x1="561.2" y1="286.72" x2="561.2" y2="359.63"/><circle cx="561.2" cy="281.32" r="1.95"/><circle cx="561.2" cy="289.04" r="1.95"/><circle cx="561.2" cy="290.24" r="1.95"/><circle cx="561.2" cy="296.76" r="1.95"/><circle cx="561.2" cy="300.97" r="1.95"/><circle cx="561.2" cy="303.17" r="1.95"/><circle cx="561.2" cy="308.49" r="1.95"/><circle cx="561.2" cy="311.49" r="1.95"/><circle cx="561.2" cy="313.2" r="1.95"/><circle cx="561.2" cy="314.9" r="1.95"/><circle cx="561.2" cy="317.21" r="1.95"/><circle cx="561.2" cy="319.41" r="1.95"/><circle cx="561.2" cy="321.72" r="1.95"/><circle cx="561.2" cy="323.32" r="1.95"/><circle cx="561.2" cy="325.33" r="1.95"/><circle cx="561.2" cy="326.33" r="1.95"/><circle cx="561.2" cy="340.57" r="1.95"/><circle cx="561.2" cy="344.28" r="1.95"/><circle cx="561.2" cy="347.68" r="1.95"/><circle cx="561.2" cy="352.2" r="1.95"/><circle cx="561.2" cy="365.03" r="1.95"/><line x1="605.1" y1="292.23" x2="605.1" y2="349.5"/><circle cx="605.1" cy="286.83" r="1.95"/><circle cx="605.1" cy="290.74" r="1.95"/><circle cx="605.1" cy="292.75" r="1.95"/><circle cx="605.1" cy="296.76" r="1.95"/><circle cx="605.1" cy="299.26" r="1.95"/><circle cx="605.1" cy="301.77" r="1.95"/><circle cx="605.1" cy="304.27" r="1.95"/><circle cx="605.1" cy="306.78" r="1.95"/><circle cx="605.1" cy="309.29" r="1.95"/><circle cx="605.1" cy="311.79" r="1.95"/><circle cx="605.1" cy="314.3" r="1.95"/><circle cx="605.1" cy="316.81" r="1.95"/><circle cx="605.1" cy="319.31" r="1.95"/><circle cx="605.1" cy="321.82" r="1.95"/><circle cx="605.1" cy="326.93" r="1.95"/><circle cx="605.1" cy="330.04" r="1.95"/><circle cx="605.1" cy="349.59" r="1.95"/><circle cx="605.1" cy="354.9" r="1.95"/><line x1="649" y1="287.92" x2="649" y2="367.05"/><circle cx="649" cy="282.52" r="1.95"/><circle cx="649" cy="284.22" r="1.95"/><circle cx="649" cy="294.55" r="1.95"/><circle cx="649" cy="296.76" r="1.95"/><circle cx="649" cy="300.97" r="1.95"/><circle cx="649" cy="303.97" r="1.95"/><circle cx="649" cy="305.48" r="1.95"/><circle cx="649" cy="308.49" r="1.95"/><circle cx="649" cy="310.39" r="1.95"/><circle cx="649" cy="312.29" r="1.95"/><circle cx="649" cy="314.3" r="1.95"/><circle cx="649" cy="316.3" r="1.95"/><circle cx="649" cy="318.31" r="1.95"/><circle cx="649" cy="320.52" r="1.95"/><circle cx="649" cy="323.22" r="1.95"/><circle cx="649" cy="326.93" r="1.95"/><circle cx="649" cy="332.65" r="1.95"/><circle cx="649" cy="334.15" r="1.95"/><circle cx="649" cy="340.07" r="1.95"/><circle cx="649" cy="342.97" r="1.95"/><circle cx="649" cy="349.29" r="1.95"/><circle cx="649" cy="372.45" r="1.95"/><line x1="692.9" y1="242.3" x2="692.9" y2="385.49"/><circle cx="692.9" cy="236.9" r="1.95"/><circle cx="692.9" cy="264.77" r="1.95"/><circle cx="692.9" cy="273.4" r="1.95"/><circle cx="692.9" cy="288.23" r="1.95"/><circle cx="692.9" cy="293.55" r="1.95"/><circle cx="692.9" cy="300.16" r="1.95"/><circle cx="692.9" cy="301.17" r="1.95"/><circle cx="692.9" cy="307.88" r="1.95"/><circle cx="692.9" cy="310.49" r="1.95"/><circle cx="692.9" cy="316.91" r="1.95"/><circle cx="692.9" cy="319.21" r="1.95"/><circle cx="692.9" cy="322.32" r="1.95"/><circle cx="692.9" cy="324.33" r="1.95"/><circle cx="692.9" cy="326.33" r="1.95"/><circle cx="692.9" cy="328.34" r="1.95"/><circle cx="692.9" cy="332.65" r="1.95"/><circle cx="692.9" cy="335.25" r="1.95"/><circle cx="692.9" cy="341.67" r="1.95"/><circle cx="692.9" cy="346.88" r="1.95"/><circle cx="692.9" cy="347.88" r="1.95"/><circle cx="692.9" cy="364.33" r="1.95"/><circle cx="692.9" cy="381.97" r="1.95"/><circle cx="692.9" cy="385.38" r="1.95"/><circle cx="692.9" cy="390.89" r="1.95"/><line x1="736.8" y1="240.5" x2="736.8" y2="369.45"/><circle cx="736.8" cy="235.1" r="1.95"/><circle cx="736.8" cy="261.06" r="1.95"/><circle cx="736.8" cy="262.27" r="1.95"/><circle cx="736.8" cy="271.69" r="1.95"/><circle cx="736.8" cy="283.22" r="1.95"/><circle cx="736.8" cy="288.73" r="1.95"/><circle cx="736.8" cy="290.74" r="1.95"/><circle cx="736.8" cy="294.15" r="1.95"/><circle cx="736.8" cy="296.05" r="1.95"/><circle cx="736.8" cy="303.17" r="1.95"/><circle cx="736.8" cy="306.28" r="1.95"/><circle cx="736.8" cy="311.09" r="1.95"/><circle cx="736.8" cy="313" r="1.95"/><circle cx="736.8" cy="316.81" r="1.95"/><circle cx="736.8" cy="322.72" r="1.95"/><circle cx="736.8" cy="324.02" r="1.95"/><circle cx="736.8" cy="325.13" r="1.95"/><circle cx="736.8" cy="332.35" r="1.95"/><circle cx="736.8" cy="333.85" r="1.95"/><circle cx="736.8" cy="335.35" r="1.95"/><circle cx="736.8" cy="338.56" r="1.95"/><circle cx="736.8" cy="349.09" r="1.95"/><circle cx="736.8" cy="363.52" r="1.95"/><circle cx="736.8" cy="374.85" r="1.95"/><line x1="780.7" y1="289.12" x2="780.7" y2="361.23"/><circle cx="780.7" cy="283.72" r="1.95"/><circle cx="780.7" cy="289.44" r="1.95"/><circle cx="780.7" cy="295.25" r="1.95"/><circle cx="780.7" cy="296.76" r="1.95"/><circle cx="780.7" cy="300.36" r="1.95"/><circle cx="780.7" cy="302.97" r="1.95"/><circle cx="780.7" cy="305.58" r="1.95"/><circle cx="780.7" cy="307.48" r="1.95"/><circle cx="780.7" cy="312.8" r="1.95"/><circle cx="780.7" cy="314.8" r="1.95"/><circle cx="780.7" cy="323.82" r="1.95"/><circle cx="780.7" cy="325.33" r="1.95"/><circle cx="780.7" cy="337.66" r="1.95"/><circle cx="780.7" cy="366.63" r="1.95"/></g>
<g stroke="#2a2a2a" stroke-width="1"><line x1="477.8" y1="321.6" x2="513.8" y2="289.2"/><line x1="522.5" y1="299.4" x2="556.4" y2="321.9"/><line x1="566.6" y1="338.2" x2="600.5" y2="318.6"/><line x1="611" y1="319.7" x2="644.1" y2="316.3"/><line x1="652.3" y1="368" x2="690.1" y2="320.5"/><line x1="698.3" y1="324.9" x2="731.9" y2="332.6"/><line x1="742.2" y1="323.6" x2="775.8" y2="308.1"/></g>
<g clip-path="url(#c3)" stroke="#f23a3a" stroke-width="1.1"><line x1="473.9" y1="351.7" x2="517.7" y2="350.4"/><line x1="517.7" y1="360.7" x2="561.2" y2="358.6"/><line x1="561.2" y1="364.5" x2="605.1" y2="367"/><line x1="605.1" y1="351.5" x2="649" y2="346.1"/><line x1="649" y1="356.4" x2="692.9" y2="366.7"/><line x1="692.9" y1="394.6" x2="736.8" y2="388.9"/><line x1="736.8" y1="375.8" x2="780.7" y2="381.2"/><line x1="473.9" y1="349.9" x2="473.9" y2="359.4"/><line x1="517.7" y1="350.4" x2="517.7" y2="361.2"/><line x1="561.2" y1="358.6" x2="561.2" y2="379"/><line x1="605.1" y1="351.5" x2="605.1" y2="367"/><line x1="649" y1="346.1" x2="649" y2="356.4"/><line x1="692.9" y1="366.7" x2="692.9" y2="394.6"/><line x1="736.8" y1="375.8" x2="736.8" y2="388.9"/><line x1="780.7" y1="361.8" x2="780.7" y2="381.2"/></g>
<rect x="461.6" y="363.5" width="74.9" height="33.4" fill="#fff" stroke="#474747" stroke-width="1.2"/>
<line x1="469.9" y1="374.9" x2="486" y2="374.9" stroke="#2a2a2a" stroke-width="1.1"/>
<line x1="469.9" y1="385.7" x2="486" y2="385.7" stroke="#f23a3a" stroke-width="1.3"/>
<text x="491.8" y="379.4">TGARCH</text>
<text x="491.8" y="389.7">VaR</text>
<rect x="461.6" y="228.9" width="331.2" height="168" fill="none" stroke="#474747" stroke-width="1.2"/>
<g stroke="#474747" stroke-width="1.1"><line x1="456.3" y1="243.02" x2="461.6" y2="243.02"/><line x1="456.3" y1="266.68" x2="461.6" y2="266.68"/><line x1="456.3" y1="290.34" x2="461.6" y2="290.34"/><line x1="456.3" y1="314" x2="461.6" y2="314"/><line x1="456.3" y1="337.66" x2="461.6" y2="337.66"/><line x1="456.3" y1="361.32" x2="461.6" y2="361.32"/><line x1="456.3" y1="384.98" x2="461.6" y2="384.98"/><line x1="473.9" y1="396.9" x2="473.9" y2="402.2"/><line x1="517.7" y1="396.9" x2="517.7" y2="402.2"/><line x1="561.2" y1="396.9" x2="561.2" y2="402.2"/><line x1="605.1" y1="396.9" x2="605.1" y2="402.2"/><line x1="649" y1="396.9" x2="649" y2="402.2"/><line x1="692.9" y1="396.9" x2="692.9" y2="402.2"/><line x1="736.8" y1="396.9" x2="736.8" y2="402.2"/><line x1="780.7" y1="396.9" x2="780.7" y2="402.2"/></g>
<text x="452.6" y="246.25" text-anchor="end">0.06</text>
<text x="452.6" y="293.4" text-anchor="end">0.02</text>
<text x="452.6" y="341" text-anchor="end">-0.02</text>
<text x="452.6" y="388.65" text-anchor="end">-0.06</text>
<text x="473.4" y="416.4" text-anchor="middle">Dec</text>
<text x="560.4" y="416.4" text-anchor="middle">Feb</text>
<text x="605.1" y="416.4" text-anchor="middle">Mar</text>
<text x="646.9" y="416.4" text-anchor="middle">Apr</text>
<text x="692.2" y="416.4" text-anchor="middle">May</text>
<text x="736.8" y="416.4" text-anchor="middle">Jun</text>
<text x="779.6" y="416.4" text-anchor="middle">Jul</text>
<text x="627" y="437.8" text-anchor="middle">Date</text>
<text transform="translate(421.2 312.1) rotate(-90)" x="0" y="3.6" text-anchor="middle">Return/VaR in percent</text></g>
<g><clipPath id="c4"><rect x="259.6" y="451.7" width="330" height="167.5"/></clipPath>
<g clip-path="url(#c4)" stroke="#2e2e2e" stroke-width="1" fill="none"><line x1="271.8" y1="488.48" x2="271.8" y2="563.69"/><circle cx="271.8" cy="483.08" r="1.95"/><circle cx="271.8" cy="502.52" r="1.95"/><circle cx="271.8" cy="503.51" r="1.95"/><circle cx="271.8" cy="508.3" r="1.95"/><circle cx="271.8" cy="511.69" r="1.95"/><circle cx="271.8" cy="516.47" r="1.95"/><circle cx="271.8" cy="518.36" r="1.95"/><circle cx="271.8" cy="520.26" r="1.95"/><circle cx="271.8" cy="524.64" r="1.95"/><circle cx="271.8" cy="525.64" r="1.95"/><circle cx="271.8" cy="527.33" r="1.95"/><circle cx="271.8" cy="531.52" r="1.95"/><circle cx="271.8" cy="537" r="1.95"/><circle cx="271.8" cy="538" r="1.95"/><circle cx="271.8" cy="539.39" r="1.95"/><circle cx="271.8" cy="541.88" r="1.95"/><circle cx="271.8" cy="543.98" r="1.95"/><circle cx="271.8" cy="545.97" r="1.95"/><circle cx="271.8" cy="547.76" r="1.95"/><circle cx="271.8" cy="552.85" r="1.95"/><circle cx="271.8" cy="553.84" r="1.95"/><circle cx="271.8" cy="555.24" r="1.95"/><circle cx="271.8" cy="557.83" r="1.95"/><circle cx="271.8" cy="564.21" r="1.95"/><circle cx="271.8" cy="569.09" r="1.95"/><line x1="315.5" y1="496.46" x2="315.5" y2="575.85"/><circle cx="315.5" cy="491.06" r="1.95"/><circle cx="315.5" cy="496.74" r="1.95"/><circle cx="315.5" cy="504.31" r="1.95"/><circle cx="315.5" cy="505.51" r="1.95"/><circle cx="315.5" cy="508.7" r="1.95"/><circle cx="315.5" cy="515.07" r="1.95"/><circle cx="315.5" cy="518.46" r="1.95"/><circle cx="315.5" cy="523.45" r="1.95"/><circle cx="315.5" cy="524.64" r="1.95"/><circle cx="315.5" cy="528.13" r="1.95"/><circle cx="315.5" cy="530.92" r="1.95"/><circle cx="315.5" cy="532.91" r="1.95"/><circle cx="315.5" cy="534.91" r="1.95"/><circle cx="315.5" cy="536.9" r="1.95"/><circle cx="315.5" cy="538.89" r="1.95"/><circle cx="315.5" cy="541.39" r="1.95"/><circle cx="315.5" cy="544.77" r="1.95"/><circle cx="315.5" cy="548.16" r="1.95"/><circle cx="315.5" cy="550.75" r="1.95"/><circle cx="315.5" cy="554.94" r="1.95"/><circle cx="315.5" cy="558.63" r="1.95"/><circle cx="315.5" cy="562.01" r="1.95"/><circle cx="315.5" cy="565.4" r="1.95"/><circle cx="315.5" cy="567.99" r="1.95"/><circle cx="315.5" cy="570.98" r="1.95"/><circle cx="315.5" cy="581.25" r="1.95"/><line x1="358.7" y1="509.51" x2="358.7" y2="581.93"/><circle cx="358.7" cy="504.11" r="1.95"/><circle cx="358.7" cy="511.79" r="1.95"/><circle cx="358.7" cy="512.98" r="1.95"/><circle cx="358.7" cy="519.46" r="1.95"/><circle cx="358.7" cy="523.65" r="1.95"/><circle cx="358.7" cy="525.84" r="1.95"/><circle cx="358.7" cy="531.12" r="1.95"/><circle cx="358.7" cy="534.11" r="1.95"/><circle cx="358.7" cy="535.8" r="1.95"/><circle cx="358.7" cy="537.5" r="1.95"/><circle cx="358.7" cy="539.79" r="1.95"/><circle cx="358.7" cy="541.98" r="1.95"/><circle cx="358.7" cy="544.28" r="1.95"/><circle cx="358.7" cy="545.87" r="1.95"/><circle cx="358.7" cy="547.86" r="1.95"/><circle cx="358.7" cy="548.86" r="1.95"/><circle cx="358.7" cy="563.01" r="1.95"/><circle cx="358.7" cy="566.7" r="1.95"/><circle cx="358.7" cy="570.09" r="1.95"/><circle cx="358.7" cy="574.57" r="1.95"/><circle cx="358.7" cy="587.33" r="1.95"/><line x1="402.7" y1="514.99" x2="402.7" y2="571.86"/><circle cx="402.7" cy="509.59" r="1.95"/><circle cx="402.7" cy="513.48" r="1.95"/><circle cx="402.7" cy="515.47" r="1.95"/><circle cx="402.7" cy="519.46" r="1.95"/><circle cx="402.7" cy="521.95" r="1.95"/><circle cx="402.7" cy="524.44" r="1.95"/><circle cx="402.7" cy="526.93" r="1.95"/><circle cx="402.7" cy="529.43" r="1.95"/><circle cx="402.7" cy="531.92" r="1.95"/><circle cx="402.7" cy="534.41" r="1.95"/><circle cx="402.7" cy="536.9" r="1.95"/><circle cx="402.7" cy="539.39" r="1.95"/><circle cx="402.7" cy="541.88" r="1.95"/><circle cx="402.7" cy="544.37" r="1.95"/><circle cx="402.7" cy="549.46" r="1.95"/><circle cx="402.7" cy="552.55" r="1.95"/><circle cx="402.7" cy="571.98" r="1.95"/><circle cx="402.7" cy="577.26" r="1.95"/><line x1="446.5" y1="510.71" x2="446.5" y2="589.3"/><circle cx="446.5" cy="505.31" r="1.95"/><circle cx="446.5" cy="507" r="1.95"/><circle cx="446.5" cy="517.27" r="1.95"/><circle cx="446.5" cy="519.46" r="1.95"/><circle cx="446.5" cy="523.65" r="1.95"/><circle cx="446.5" cy="526.64" r="1.95"/><circle cx="446.5" cy="528.13" r="1.95"/><circle cx="446.5" cy="531.12" r="1.95"/><circle cx="446.5" cy="533.01" r="1.95"/><circle cx="446.5" cy="534.91" r="1.95"/><circle cx="446.5" cy="536.9" r="1.95"/><circle cx="446.5" cy="538.89" r="1.95"/><circle cx="446.5" cy="540.89" r="1.95"/><circle cx="446.5" cy="543.08" r="1.95"/><circle cx="446.5" cy="545.77" r="1.95"/><circle cx="446.5" cy="549.46" r="1.95"/><circle cx="446.5" cy="555.14" r="1.95"/><circle cx="446.5" cy="556.63" r="1.95"/><circle cx="446.5" cy="562.51" r="1.95"/><circle cx="446.5" cy="565.4" r="1.95"/><circle cx="446.5" cy="571.68" r="1.95"/><circle cx="446.5" cy="594.7" r="1.95"/><line x1="490.1" y1="465.36" x2="490.1" y2="607.64"/><circle cx="490.1" cy="459.96" r="1.95"/><circle cx="490.1" cy="487.67" r="1.95"/><circle cx="490.1" cy="496.24" r="1.95"/><circle cx="490.1" cy="510.99" r="1.95"/><circle cx="490.1" cy="516.27" r="1.95"/><circle cx="490.1" cy="522.85" r="1.95"/><circle cx="490.1" cy="523.84" r="1.95"/><circle cx="490.1" cy="530.52" r="1.95"/><circle cx="490.1" cy="533.11" r="1.95"/><circle cx="490.1" cy="539.49" r="1.95"/><circle cx="490.1" cy="541.78" r="1.95"/><circle cx="490.1" cy="544.87" r="1.95"/><circle cx="490.1" cy="546.87" r="1.95"/><circle cx="490.1" cy="548.86" r="1.95"/><circle cx="490.1" cy="550.85" r="1.95"/><circle cx="490.1" cy="555.14" r="1.95"/><circle cx="490.1" cy="557.73" r="1.95"/><circle cx="490.1" cy="564.11" r="1.95"/><circle cx="490.1" cy="569.29" r="1.95"/><circle cx="490.1" cy="570.29" r="1.95"/><circle cx="490.1" cy="586.63" r="1.95"/><circle cx="490.1" cy="604.17" r="1.95"/><circle cx="490.1" cy="607.56" r="1.95"/><circle cx="490.1" cy="613.04" r="1.95"/><line x1="533.8" y1="463.57" x2="533.8" y2="591.7"/><circle cx="533.8" cy="458.17" r="1.95"/><circle cx="533.8" cy="483.98" r="1.95"/><circle cx="533.8" cy="485.18" r="1.95"/><circle cx="533.8" cy="494.54" r="1.95"/><circle cx="533.8" cy="506.01" r="1.95"/><circle cx="533.8" cy="511.49" r="1.95"/><circle cx="533.8" cy="513.48" r="1.95"/><circle cx="533.8" cy="516.87" r="1.95"/><circle cx="533.8" cy="518.76" r="1.95"/><circle cx="533.8" cy="525.84" r="1.95"/><circle cx="533.8" cy="528.93" r="1.95"/><circle cx="533.8" cy="533.71" r="1.95"/><circle cx="533.8" cy="535.6" r="1.95"/><circle cx="533.8" cy="539.39" r="1.95"/><circle cx="533.8" cy="545.27" r="1.95"/><circle cx="533.8" cy="546.57" r="1.95"/><circle cx="533.8" cy="547.66" r="1.95"/><circle cx="533.8" cy="554.84" r="1.95"/><circle cx="533.8" cy="556.33" r="1.95"/><circle cx="533.8" cy="557.83" r="1.95"/><circle cx="533.8" cy="561.02" r="1.95"/><circle cx="533.8" cy="571.48" r="1.95"/><circle cx="533.8" cy="585.83" r="1.95"/><circle cx="533.8" cy="597.1" r="1.95"/><line x1="577.7" y1="511.9" x2="577.7" y2="583.52"/><circle cx="577.7" cy="506.5" r="1.95"/><circle cx="577.7" cy="512.18" r="1.95"/><circle cx="577.7" cy="517.96" r="1.95"/><circle cx="577.7" cy="519.46" r="1.95"/><circle cx="577.7" cy="523.05" r="1.95"/><circle cx="577.7" cy="525.64" r="1.95"/><circle cx="577.7" cy="528.23" r="1.95"/><circle cx="577.7" cy="530.12" r="1.95"/><circle cx="577.7" cy="535.41" r="1.95"/><circle cx="577.7" cy="537.4" r="1.95"/><circle cx="577.7" cy="546.37" r="1.95"/><circle cx="577.7" cy="547.86" r="1.95"/><circle cx="577.7" cy="560.12" r="1.95"/><circle cx="577.7" cy="588.92" r="1.95"/></g>
<g stroke="#2a2a2a" stroke-width="1"><line x1="275.8" y1="543.8" x2="311.8" y2="512"/><line x1="320" y1="521.4" x2="354.4" y2="544.3"/><line x1="364.1" y1="560.4" x2="397.8" y2="541.3"/><line x1="408.5" y1="542.5" x2="441.6" y2="538.6"/><line x1="449.3" y1="590.3" x2="487.3" y2="542.5"/><line x1="495.6" y1="547.4" x2="528.6" y2="555.4"/><line x1="539.7" y1="546.4" x2="573.3" y2="530.6"/></g>
<g clip-path="url(#c4)" stroke="#f23a3a" stroke-width="1.1"><line x1="271.8" y1="577" x2="315.5" y2="573.9"/><line x1="315.5" y1="583.9" x2="358.7" y2="580.8"/><line x1="358.7" y1="589.8" x2="402.7" y2="591"/><line x1="402.7" y1="577.1" x2="446.5" y2="580.5"/><line x1="446.5" y1="580.5" x2="490.1" y2="591.6"/><line x1="490.1" y1="615.3" x2="533.8" y2="613.3"/><line x1="533.8" y1="598.5" x2="577.7" y2="599.8"/><line x1="271.8" y1="574.4" x2="271.8" y2="582.1"/><line x1="315.5" y1="573.9" x2="315.5" y2="584.7"/><line x1="358.7" y1="580.8" x2="358.7" y2="600.5"/><line x1="402.7" y1="577.1" x2="402.7" y2="590.8"/><line x1="446.5" y1="573.5" x2="446.5" y2="580.5"/><line x1="490.1" y1="591.6" x2="490.1" y2="615.3"/><line x1="533.8" y1="598.5" x2="533.8" y2="613.3"/><line x1="577.7" y1="586.4" x2="577.7" y2="599.8"/></g>
<rect x="259.6" y="586.5" width="89.1" height="32.7" fill="#fff" stroke="#474747" stroke-width="1.2"/>
<line x1="267.9" y1="596.7" x2="283.3" y2="596.7" stroke="#2a2a2a" stroke-width="1.1"/>
<line x1="267.9" y1="607.5" x2="283.3" y2="607.5" stroke="#f23a3a" stroke-width="1.3"/>
<text x="286.7" y="601">GJR GARCH</text>
<text x="286.7" y="611.3">VaR</text>
<rect x="259.6" y="451.7" width="330" height="167.5" fill="none" stroke="#474747" stroke-width="1.2"/>
<g stroke="#474747" stroke-width="1.1"><line x1="254.3" y1="466.24" x2="259.6" y2="466.24"/><line x1="254.3" y1="489.76" x2="259.6" y2="489.76"/><line x1="254.3" y1="513.28" x2="259.6" y2="513.28"/><line x1="254.3" y1="536.8" x2="259.6" y2="536.8"/><line x1="254.3" y1="560.32" x2="259.6" y2="560.32"/><line x1="254.3" y1="583.84" x2="259.6" y2="583.84"/><line x1="254.3" y1="607.36" x2="259.6" y2="607.36"/><line x1="271.8" y1="619.2" x2="271.8" y2="624.5"/><line x1="315.5" y1="619.2" x2="315.5" y2="624.5"/><line x1="358.7" y1="619.2" x2="358.7" y2="624.5"/><line x1="402.7" y1="619.2" x2="402.7" y2="624.5"/><line x1="446.5" y1="619.2" x2="446.5" y2="624.5"/><line x1="490.1" y1="619.2" x2="490.1" y2="624.5"/><line x1="533.8" y1="619.2" x2="533.8" y2="624.5"/><line x1="577.7" y1="619.2" x2="577.7" y2="624.5"/></g>
<text x="249.9" y="470.65" text-anchor="end">0.06</text>
<text x="249.9" y="516.8" text-anchor="end">0.02</text>
<text x="249.9" y="563.65" text-anchor="end">-0.02</text>
<text x="249.9" y="610.4" text-anchor="end">-0.06</text>
<text x="271.3" y="638.6" text-anchor="middle">Dec</text>
<text x="358.7" y="638.6" text-anchor="middle">Feb</text>
<text x="403.9" y="638.6" text-anchor="middle">Mar</text>
<text x="444.8" y="638.6" text-anchor="middle">Apr</text>
<text x="490.3" y="638.6" text-anchor="middle">May</text>
<text x="535.3" y="638.6" text-anchor="middle">Jun</text>
<text x="577.7" y="638.6" text-anchor="middle">Jul</text>
<text x="424.5" y="660" text-anchor="middle">Date</text>
<text transform="translate(220.2 538) rotate(-90)" x="0" y="3.6" text-anchor="middle">Return/VaR in percent</text></g>
</svg>
</body></html>
